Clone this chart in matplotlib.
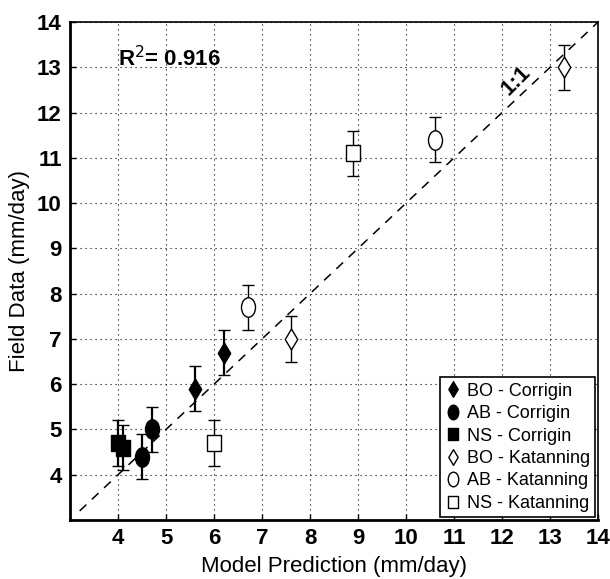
import matplotlib.pyplot as plt
import numpy as np
from matplotlib.path import Path
from matplotlib.transforms import Affine2D

plt.rcParams['font.family'] = ['Liberation Sans', 'DejaVu Sans']

# measured vs. predicted ET, two sites, three crops
bo_cor_x = [5.6, 6.2]
bo_cor_y = [5.9, 6.7]
ab_cor_x = [4.5, 4.7]
ab_cor_y = [4.4, 5.0]
ns_cor_x = [4.0, 4.1]
ns_cor_y = [4.7, 4.6]
bo_kat_x = [7.6, 13.3]
bo_kat_y = [7.0, 13.0]
ab_kat_x = [6.7, 10.6]
ab_kat_y = [7.7, 11.4]
ns_kat_x = [6.0, 8.9]
ns_kat_y = [4.7, 11.1]
err = 0.5

# tall oval / diamond / square markers
oval = Path.unit_circle().transformed(Affine2D().scale(0.72, 1.0))
diamond = Path([(0, 1), (0.6, 0), (0, -1), (-0.6, 0), (0, 1)],
               [Path.MOVETO, Path.LINETO, Path.LINETO, Path.LINETO, Path.CLOSEPOLY])
square = Path([(-0.85, -1), (0.85, -1), (0.85, 1), (-0.85, 1), (-0.85, -1)],
              [Path.MOVETO, Path.LINETO, Path.LINETO, Path.LINETO, Path.CLOSEPOLY])

fig = plt.figure(figsize=(6.1, 5.79), dpi=100)
ax = fig.add_axes([0.1148, 0.1019, 0.8656, 0.860])

ax.plot([3.2, 14], [3.2, 14], 'k--', lw=1.1, dashes=(6, 5), zorder=1)

series = [
    (bo_cor_x, bo_cor_y, diamond, 'k', 'BO - Corrigin', 15, 1.6),
    (ab_cor_x, ab_cor_y, oval, 'k', 'AB - Corrigin', 14, 1.6),
    (ns_cor_x, ns_cor_y, square, 'k', 'NS - Corrigin', 11.5, 1.6),
    (bo_kat_x, bo_kat_y, diamond, 'w', 'BO - Katanning', 15, 1.0),
    (ab_kat_x, ab_kat_y, oval, 'w', 'AB - Katanning', 14, 1.0),
    (ns_kat_x, ns_kat_y, square, 'w', 'NS - Katanning', 11.5, 1.0),
]
for x, y, m, fc, lab, ms, lw in series:
    ax.errorbar(x, y, yerr=err, fmt='none', ecolor='k', elinewidth=lw,
                capsize=4, capthick=1.0, zorder=2)
    ax.plot(x, y, ls='none', marker=m, ms=ms, mfc=fc, mec='k', mew=1.0,
            label=lab, zorder=3)

ax.set_xlim(3, 14)
ax.set_ylim(3, 14)
ax.set_xticks(range(4, 15))
ax.set_yticks(range(4, 15))
ax.grid(True, ls=(0, (1, 3.5)), color='k', lw=0.8)
ax.tick_params(direction='in', length=4, width=1, labelsize=16, pad=6)
for lbl in ax.get_xticklabels() + ax.get_yticklabels():
    lbl.set_fontweight('bold')
ax.spines['left'].set_linewidth(2)
ax.spines['bottom'].set_linewidth(2)
ax.spines['top'].set_linewidth(1.2)
ax.spines['right'].set_linewidth(1.2)

ax.set_xlabel('Model Prediction (mm/day)', fontsize=16, labelpad=5)
ax.set_ylabel('Field Data (mm/day)', fontsize=16, labelpad=5)

ax.text(4.0, 13.2, r'R$^2$= 0.916', fontsize=16, fontweight='bold', va='center', ha='left')
ax.text(12.3, 12.7, '1:1', fontsize=16, fontweight='bold', rotation=45,
        ha='center', va='center')

leg = ax.legend(loc='lower right', fontsize=13, frameon=True, fancybox=False,
                edgecolor='k', framealpha=1, borderaxespad=0.15, handletextpad=0.3,
                handlelength=0.9, labelspacing=0.3, markerscale=0.75, borderpad=0.3)
leg.get_frame().set_linewidth(1.2)

plt.savefig('out.png', dpi=100)
